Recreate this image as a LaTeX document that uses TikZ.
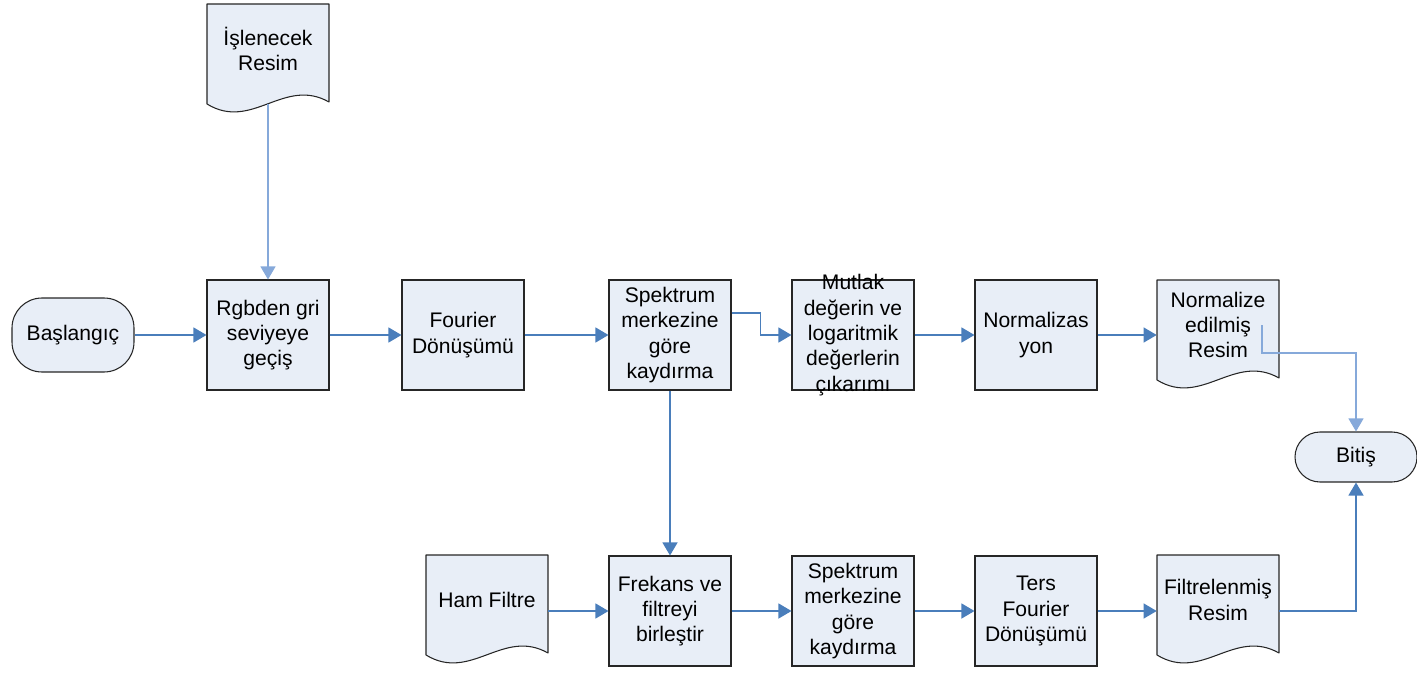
\documentclass[tikz,border=0pt]{standalone}
\usepackage{fontspec}
\setmainfont{Liberation Sans}
\usetikzlibrary{arrows.meta, calc, positioning}
\definecolor{boxfill}{HTML}{E8EEF7}
\definecolor{ink}{HTML}{262626}
\definecolor{flowb}{HTML}{4A7EBB}
\definecolor{flowl}{HTML}{86A9DA}
\tikzset{
  lbl/.style={align=center, inner sep=0pt, font=\fontsize{12}{14.4}\selectfont},
  box/.style={lbl, draw=ink, fill=boxfill, line width=0.6pt, minimum width=2.44cm, minimum height=2.2cm},
  term/.style={lbl, draw=ink, fill=boxfill, line width=0.6pt, minimum width=2.44cm, rounded corners=#1},
  term/.default=0.6cm,
  doctext/.style={lbl, minimum width=2.44cm, minimum height=2.2cm},
  flow/.style={flowb, line width=0.7pt, -{Triangle[length=0.26cm, width=0.3cm]}},
  flowlt/.style={flow, flowl, line width=0.6pt}
}

\begin{document}
\begin{tikzpicture}
  \useasboundingbox (0,0) rectangle (28.34,13.44);
  % document shapes, wavy bottom edge
  \foreach \x/\y/\nm/\txt in {5.36/12.36/islenen/{İşlenecek\\Resim}, 24.36/6.84/normres/{Normalize\\edilmiş\\Resim},
      9.74/1.34/hamf/{Ham Filtre}, 24.36/1.34/filtres/{Filtrelenmiş\\Resim}}{
     \filldraw[fill=boxfill, draw=ink, line width=0.6pt, line join=round]
        (\x-1.22,\y-1) -- (\x-1.22,\y+1) -- (\x+1.22,\y+1) -- (\x+1.22,\y-0.96)
        .. controls (\x+0.32,\y-0.45) and (\x-0.32,\y-1.55) .. (\x-1.22,\y-1) -- cycle;
     \node[doctext] (\nm) at (\x,\y+0.1) {\txt};}

  % upper row
  \node[term, minimum height=1.48cm] (basla) at (1.46,6.74) {Başlangıç};
  \node[box] (rgb) at (5.36,6.74) {Rgbden gri\\seviyeye\\geçiş};
  \node[box] (fourier) at (9.26,6.74) {Fourier\\Dönüşümü};
  \node[box] (kaydir) at (13.40,6.74) {Spektrum\\merkezine\\göre\\kaydırma};
  \node[box] (mutlak) at (17.06,6.74) {};
  \node[lbl] (mutlaktxt) at (mutlak) {Mutlak\\değerin ve\\logaritmik\\değerlerin\\çıkarımı};
  \node[box] (normz) at (20.72,6.74) {Normalizas\\yon};
  \node[term=0.5cm, minimum height=1.0cm] (bitis) at (27.12,4.30) {Bitiş};

  % lower row
  \node[box] (birlestir) at (13.40,1.22) {Frekans ve\\filtreyi\\birleştir};
  \node[box] (kaydirb) at (17.06,1.22) {Spektrum\\merkezine\\göre\\kaydırma};
  \node[box] (ters) at (20.72,1.22) {Ters\\Fourier\\Dönüşümü};

  % connectors
  \draw[flow] (basla) -- (rgb);
  \draw[flowlt] (islenen.south) -- (rgb);
  \draw[flow] (rgb) -- (fourier);
  \draw[flow] (fourier) -- (kaydir);
  \draw[flow] ($(kaydir.east)+(0,0.44)$) -- ++(0.58,0) |- (mutlak.west);
  \draw[flow] (mutlak) -- (normz);
  \draw[flow] (normz.east) -- (normz.east -| normres.west);
  \draw[flowlt] ($(normres.center)+(0.88,0)$) -- ++(0,-0.56) -| (bitis.north);
  \draw[flow] (kaydir) -- (birlestir);
  \draw[flow] (hamf.east |- birlestir) -- (birlestir.west);
  \draw[flow] (birlestir) -- (kaydirb);
  \draw[flow] (kaydirb) -- (ters);
  \draw[flow] (ters.east) -- (ters.east -| filtres.west);
  \draw[flow] (ters.east -| filtres.east) -| (bitis.south);
\end{tikzpicture}
\end{document}
